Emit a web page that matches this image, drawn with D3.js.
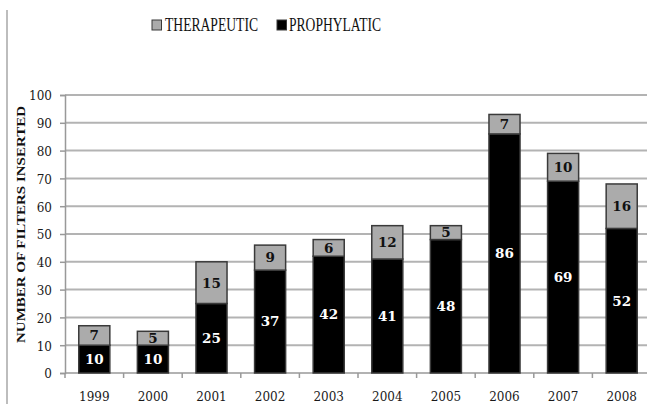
<!DOCTYPE html>
<html>
<head>
<meta charset="utf-8">
<script src="https://cdn.jsdelivr.net/npm/d3@7"></script>
<style>
  html, body { margin: 0; padding: 0; background: #fff; }
  svg { display: block; }
</style>
</head>
<body>
<script>
const years = ["1999","2000","2001","2002","2003","2004","2005","2006","2007","2008"];
const prophylatic = [10, 10, 25, 37, 42, 41, 48, 86, 69, 52];
const therapeutic = [7, 5, 15, 9, 6, 12, 5, 7, 10, 16];
const yTicks = [0, 10, 20, 30, 40, 50, 60, 70, 80, 90, 100];
const seriesNames = ["THERAPEUTIC", "PROPHYLATIC"];
const yTitle = "NUMBER OF FILTERS INSERTED";

(function () {
const W = 647, H = 404;
const svg = d3.select("body").append("svg").attr("width", W).attr("height", H);

// left border line
svg.append("line").attr("x1", 7).attr("x2", 7).attr("y1", 10).attr("y2", H)
  .attr("stroke", "#bdbdbd").attr("stroke-width", 2);

const pLeft = 65, pRight = 651, pTop = 95, pBottom = 373;
const x = d3.scaleBand().domain(years).range([pLeft, pRight]).paddingInner(0.47).paddingOuter(0.235);
const y = d3.scaleLinear().domain([0, 100]).range([pBottom, pTop]);

// gridlines
svg.append("g").selectAll("line").data(yTicks.filter(d => d > 0)).join("line")
  .attr("x1", pLeft).attr("x2", W)
  .attr("y1", d => y(d)).attr("y2", d => y(d))
  .attr("stroke", "#b3b3b3").attr("stroke-width", 2);

// y axis
const yAxis = svg.append("g").attr("transform", `translate(${pLeft},0)`)
  .call(d3.axisLeft(y).tickValues(yTicks).tickSize(5).tickPadding(8));
yAxis.select(".domain").attr("stroke", "#999").attr("stroke-width", 1.5);
yAxis.selectAll(".tick line").attr("stroke", "#999").attr("stroke-width", 1.5);
yAxis.selectAll("text").attr("font-family", "DejaVu Serif").attr("font-size", 12)
  .attr("font-weight", "normal").attr("fill", "#1a1a1a").attr("dy", "0.4em");

// x axis with ticks at band boundaries
const step = x.step();
const boundaries = d3.range(years.length + 1).map(i => pLeft + i * step);
svg.append("line").attr("x1", pLeft).attr("x2", W).attr("y1", pBottom).attr("y2", pBottom)
  .attr("stroke", "#999").attr("stroke-width", 1.5);
svg.append("g").selectAll("line").data(boundaries).join("line")
  .attr("x1", d => d).attr("x2", d => d).attr("y1", pBottom).attr("y2", pBottom + 5)
  .attr("stroke", "#999").attr("stroke-width", 1.5);
svg.append("g").selectAll("text").data(years).join("text")
  .attr("x", d => x(d) + x.bandwidth() / 2).attr("y", 400.5)
  .attr("text-anchor", "middle")
  .attr("font-family", "DejaVu Serif").attr("font-size", 12).attr("font-weight", "normal")
  .attr("fill", "#1a1a1a").text(d => d);

// bars
const g = svg.append("g");
years.forEach((yr, i) => {
  const p = prophylatic[i], t = therapeutic[i];
  g.append("rect").attr("x", x(yr)).attr("width", x.bandwidth())
    .attr("y", y(p)).attr("height", y(0) - y(p))
    .attr("fill", "#000").attr("stroke", "#3a3a3a").attr("stroke-width", 1.5);
  g.append("rect").attr("x", x(yr)).attr("width", x.bandwidth())
    .attr("y", y(p + t)).attr("height", y(p) - y(p + t))
    .attr("fill", "#ababab").attr("stroke", "#3a3a3a").attr("stroke-width", 1.5);
});
years.forEach((yr, i) => {
  const p = prophylatic[i], t = therapeutic[i];
  const cx = x(yr) + x.bandwidth() / 2;
  g.append("text").attr("x", cx).attr("y", y(p / 2)).attr("dy", "0.36em")
    .attr("text-anchor", "middle").attr("font-family", "DejaVu Serif").attr("font-weight", "bold")
    .attr("font-size", 13.5).attr("fill", "#fff").text(p);
  g.append("text").attr("x", cx).attr("y", y(p + t / 2)).attr("dy", "0.36em")
    .attr("text-anchor", "middle").attr("font-family", "DejaVu Serif").attr("font-weight", "bold")
    .attr("font-size", 13.5).attr("fill", "#111").text(t);
});

// y title
svg.append("text").attr("transform", "translate(25,224.5) rotate(-90)")
  .attr("text-anchor", "middle").attr("font-family", "Liberation Serif").attr("font-weight", "bold")
  .attr("font-size", 13).attr("fill", "#111")
  .attr("textLength", 237).attr("lengthAdjust", "spacingAndGlyphs").text(yTitle);

// legend
const legend = [
  { name: seriesNames[0], fill: "#ababab", sx: 152, tx: 165, tw: 93 },
  { name: seriesNames[1], fill: "#000", sx: 277, tx: 289, tw: 92 }
];
legend.forEach(l => {
  svg.append("rect").attr("x", l.sx).attr("y", 20).attr("width", 9.5).attr("height", 10)
    .attr("fill", l.fill).attr("stroke", "#3a3a3a").attr("stroke-width", 1);
  svg.append("text").attr("x", l.tx).attr("y", 31).attr("font-family", "Liberation Serif")
    .attr("font-size", 19).attr("fill", "#111")
    .attr("textLength", l.tw).attr("lengthAdjust", "spacingAndGlyphs").text(l.name);
});
})();
</script>
</body>
</html>
